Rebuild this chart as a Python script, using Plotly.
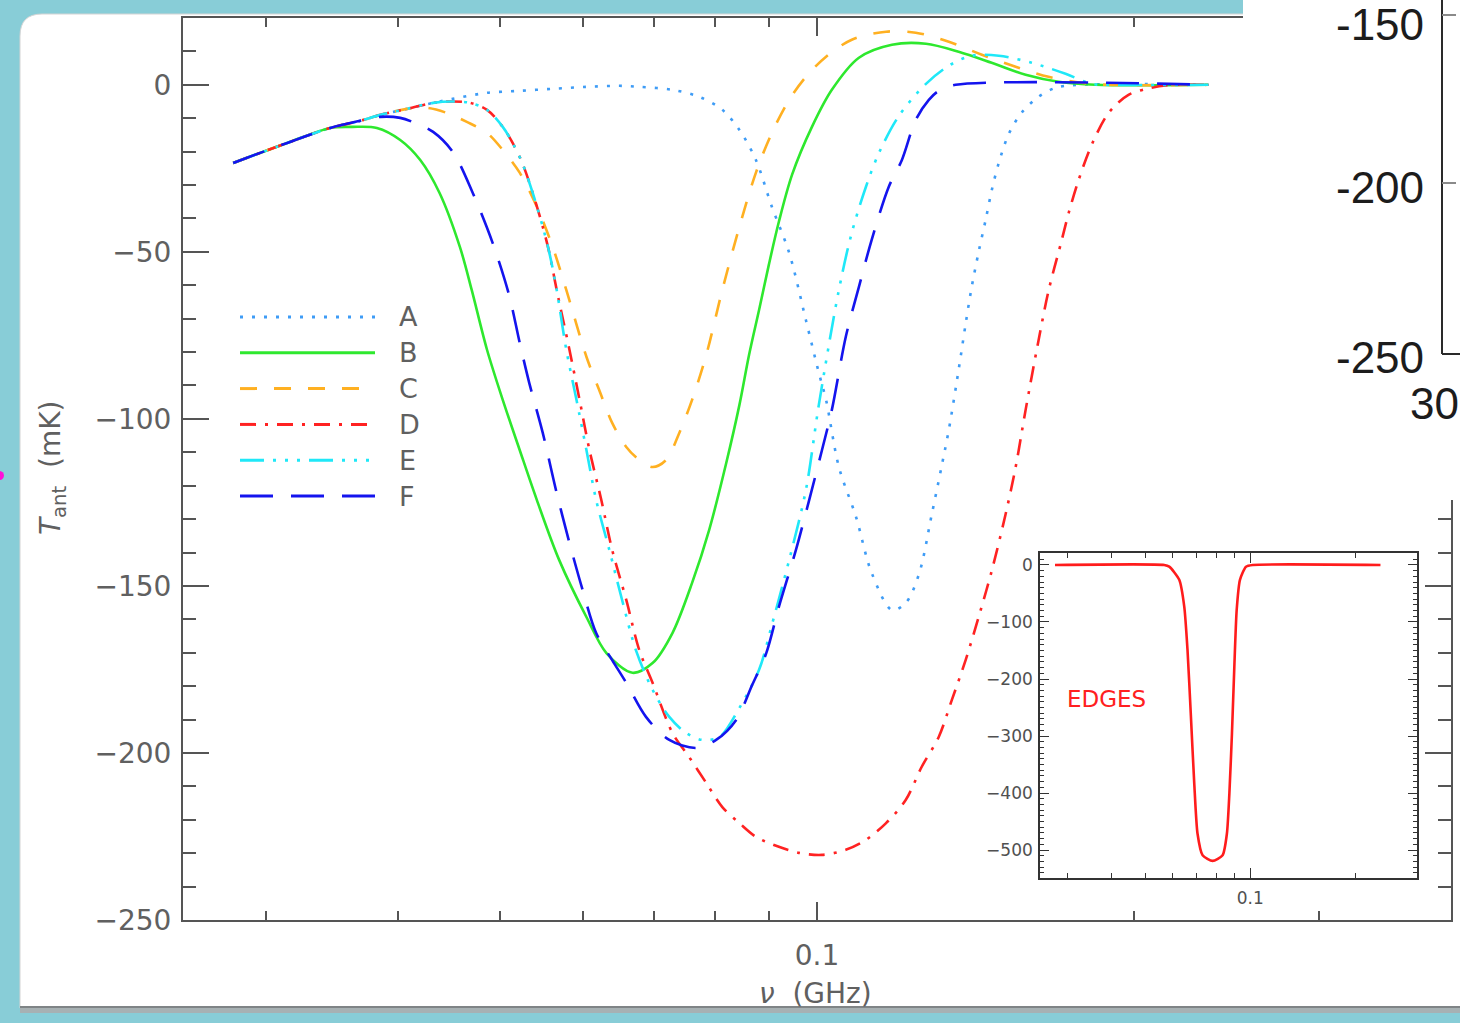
import math
import plotly.graph_objects as go

W, H = 1460, 1023

# ---------------- data (frequency in GHz, antenna temperature in mK) ----------------
series_names = ["A", "B", "C", "D", "E", "F"]

nu_A = [0.0279, 0.0314, 0.0345, 0.0368, 0.0385, 0.0408, 0.0432, 0.0451, 0.0486, 0.0522,
        0.0561, 0.0604, 0.0649, 0.0678, 0.0729, 0.0773, 0.0813, 0.0844, 0.0875, 0.0906,
        0.0941, 0.0976, 0.1004, 0.1020, 0.1049, 0.1089, 0.1127, 0.1178, 0.1214, 0.1250,
        0.1285, 0.1314, 0.1334, 0.1363, 0.1384, 0.1402, 0.1424, 0.1446, 0.1465, 0.1488,
        0.1521, 0.1564, 0.1623, 0.1685, 0.1771, 0.2353]
T_A = [-23.4, -17.4, -12.9, -10.8, -9.0, -7.2, -5.4, -4.2, -2.4, -1.8,
       -1.2, -0.6, -0.3, -0.6, -1.5, -3.6, -7.5, -13.5, -22.5, -36.5,
       -50.3, -70.4, -86.2, -94.3, -114.4, -129.3, -146.1, -157.2, -155.1, -146.4,
       -128.7, -113.8, -103.3, -85.3, -71.6, -60.8, -50.0, -40.4, -31.7, -23.4,
       -14.7, -8.4, -3.6, -0.9, 0.0, 0.0]

nu_B = [0.0279, 0.0314, 0.0345, 0.0362, 0.0382, 0.0402, 0.0420, 0.0438, 0.0458, 0.0470,
        0.0486, 0.0503, 0.0522, 0.0542, 0.0569, 0.0604, 0.0631, 0.0668, 0.0698, 0.0729,
        0.0761, 0.0790, 0.0820, 0.0844, 0.0862, 0.0881, 0.0900, 0.0920, 0.0947, 0.0989,
        0.1033, 0.1096, 0.1178, 0.1269, 0.1363, 0.1465, 0.1578, 0.1696, 0.1838, 0.2353]
T_B = [-23.4, -17.4, -12.9, -12.6, -12.9, -16.5, -22.5, -32.3, -48.5, -61.4,
       -79.3, -94.3, -109.3, -124.3, -142.2, -159.3, -170.1, -176.0, -173.1, -164.1,
       -149.1, -133.2, -113.2, -95.8, -80.8, -67.4, -53.9, -41.0, -26.9, -12.6,
       -1.5, 8.1, 12.0, 12.3, 9.9, 6.6, 3.0, 0.9, 0.0, 0.0]

nu_C = [0.0279, 0.0314, 0.0345, 0.0368, 0.0385, 0.0408, 0.0426, 0.0445, 0.0465, 0.0486,
        0.0503, 0.0522, 0.0542, 0.0561, 0.0578, 0.0604, 0.0621, 0.0639, 0.0659, 0.0678,
        0.0698, 0.0719, 0.0740, 0.0761, 0.0785, 0.0813, 0.0844, 0.0875, 0.0906, 0.0941,
        0.0976, 0.1020, 0.1079, 0.1163, 0.1241, 0.1334, 0.1434, 0.1544, 0.1659, 0.1783,
        0.1892, 0.2353]
T_C = [-23.4, -17.4, -12.9, -10.8, -9.0, -7.2, -6.9, -8.4, -11.1, -14.4,
       -19.5, -26.3, -36.5, -48.5, -61.4, -81.4, -91.3, -101.2, -108.4, -112.3,
       -114.4, -112.3, -104.2, -94.3, -80.8, -61.4, -42.5, -26.3, -14.4, -4.5,
       2.4, 8.4, 13.5, 15.9, 15.6, 12.9, 9.0, 5.4, 2.4, 0.6,
       0.0, 0.0]

nu_D = [0.0279, 0.0314, 0.0345, 0.0368, 0.0385, 0.0408, 0.0432, 0.0451, 0.0468, 0.0486,
        0.0503, 0.0514, 0.0525, 0.0537, 0.0549, 0.0557, 0.0566, 0.0582, 0.0595, 0.0608,
        0.0624, 0.0639, 0.0659, 0.0678, 0.0698, 0.0729, 0.0756, 0.0785, 0.0813, 0.0844,
        0.0875, 0.0920, 0.0961, 0.1011, 0.1065, 0.1113, 0.1163, 0.1214, 0.1257, 0.1305,
        0.1343, 0.1384, 0.1424, 0.1465, 0.1510, 0.1544, 0.1578, 0.1623, 0.1659, 0.1707,
        0.1734, 0.1771, 0.1823, 0.1892, 0.1976, 0.2077, 0.2180, 0.2353]
T_D = [-23.4, -17.4, -12.9, -10.8, -9.0, -7.2, -5.4, -5.0, -5.4, -7.5,
       -12.6, -17.4, -23.4, -32.3, -42.5, -50.3, -61.4, -79.3, -94.3, -109.3,
       -124.3, -139.2, -154.2, -169.2, -179.0, -194.0, -201.2, -209.0, -216.2, -221.0,
       -225.1, -228.1, -229.9, -230.5, -229.0, -226.0, -221.0, -214.1, -204.2, -195.2,
       -184.1, -172.2, -159.3, -145.6, -128.7, -114.4, -97.3, -76.6, -61.7, -46.7,
       -38.3, -28.7, -18.0, -8.4, -3.0, -0.9, 0.0, 0.0]

nu_E = [0.0279, 0.0314, 0.0345, 0.0368, 0.0385, 0.0408, 0.0432, 0.0451, 0.0468, 0.0486,
        0.0503, 0.0514, 0.0525, 0.0537, 0.0549, 0.0557, 0.0566, 0.0578, 0.0591, 0.0604,
        0.0617, 0.0635, 0.0653, 0.0673, 0.0698, 0.0724, 0.0751, 0.0778, 0.0808, 0.0844,
        0.0881, 0.0906, 0.0941, 0.0976, 0.1004, 0.1049, 0.1079, 0.1113, 0.1145, 0.1196,
        0.1269, 0.1334, 0.1402, 0.1488, 0.1599, 0.1722, 0.1823, 0.1892, 0.2353]
T_E = [-23.4, -17.4, -12.9, -10.8, -9.0, -7.2, -5.4, -5.0, -5.4, -7.5,
       -12.6, -17.4, -23.4, -32.3, -42.5, -50.3, -61.4, -79.3, -94.3, -109.3,
       -124.3, -139.2, -154.2, -169.2, -181.1, -189.2, -194.0, -196.1, -195.2, -186.5,
       -175.1, -161.7, -142.2, -121.3, -95.8, -61.4, -44.3, -30.5, -20.4, -9.3,
       0.3, 5.7, 8.7, 8.7, 6.6, 3.3, 0.3, 0.0, 0.0]

nu_F = [0.0279, 0.0314, 0.0345, 0.0368, 0.0385, 0.0402, 0.0413, 0.0432, 0.0451, 0.0471,
        0.0492, 0.0510, 0.0522, 0.0533, 0.0549, 0.0566, 0.0582, 0.0599, 0.0617, 0.0639,
        0.0659, 0.0688, 0.0724, 0.0768, 0.0802, 0.0838, 0.0868, 0.0895, 0.0920, 0.0955,
        0.0983, 0.1011, 0.1033, 0.1065, 0.1096, 0.1127, 0.1170, 0.1204, 0.1241, 0.1277,
        0.1305, 0.1354, 0.2353]
T_F = [-23.4, -17.4, -12.9, -10.8, -9.6, -9.9, -11.1, -14.1, -20.1, -32.3,
       -47.3, -62.9, -77.2, -89.2, -104.2, -122.2, -137.1, -151.2, -164.1, -172.2,
       -179.0, -189.2, -196.1, -198.5, -196.1, -190.1, -179.6, -170.1, -156.3, -139.2,
       -124.3, -109.3, -97.3, -75.4, -60.5, -46.4, -30.5, -22.5, -10.5, -4.5,
       -1.8, 0.0, 0.0]

# inset: EDGES profile
nu_EDGES = [0.0276, 0.0567, 0.0586, 0.0626, 0.0647, 0.0661, 0.0676, 0.0691, 0.0706, 0.0730,
            0.0780, 0.0833, 0.0857, 0.0871, 0.0886, 0.0900, 0.0914, 0.0934, 0.0972, 0.1016,
            0.2358]
T_EDGES = [0, 0, -3, -26, -73, -149, -266, -383, -471, -509,
           -519, -509, -471, -401, -295, -178, -79, -26, -3, 0,
           0]

main_y_ticks = [0, -50, -100, -150, -200, -250]
main_y_labels = ["0", "\u221250", "\u2212100", "\u2212150", "\u2212200", "\u2212250"]
main_x_ticks = [0.1]
main_x_labels = ["0.1"]
main_x_minor = [0.03, 0.04, 0.05, 0.06, 0.07, 0.08, 0.09, 0.2, 0.3]
inset_y_ticks = [0, -100, -200, -300, -400, -500]
inset_y_labels = ["0", "\u2212100", "\u2212200", "\u2212300", "\u2212400", "\u2212500"]
inset_x_minor = [0.03, 0.04, 0.05, 0.06, 0.07, 0.08, 0.09, 0.2]

# partial neighbouring chart (cut off at the right edge)
side_labels = ["-150", "-200", "-250"]
side_xlabel = "30"

# ---------------- styling ----------------
colors = {"A": "#3e9cf6", "B": "#2ee82e", "C": "#ffb021", "D": "#ff2222", "E": "#1fe8f8", "F": "#1414ee"}
dashes = {"A": "3px,9px", "B": "solid", "C": "17px,17px", "D": "16px,9px,3px,9px",
          "E": "24px,9px,3px,9px,3px,9px,3px,9px", "F": "33px,18px"}
data = {"A": (nu_A, T_A), "B": (nu_B, T_B), "C": (nu_C, T_C),
        "D": (nu_D, T_D), "E": (nu_E, T_E), "F": (nu_F, T_F)}

FONT = "DejaVu Sans"
TXT = "#606060"
AX = "#555555"


def px(x):
    return x / W


def py(y):
    return 1 - y / H


fig = go.Figure()

for name in series_names:
    nu, T = data[name]
    fig.add_trace(go.Scatter(
        x=nu, y=T, mode="lines", name=name, showlegend=False,
        line=dict(color=colors[name], width=2.6, dash=dashes[name], shape="spline", smoothing=0.9),
        xaxis="x", yaxis="y", hoverinfo="skip"))

# legend samples drawn on their own small axis
for i, name in enumerate(series_names):
    fig.add_trace(go.Scatter(
        x=[0, 1], y=[i, i], mode="lines", showlegend=False,
        line=dict(color=colors[name], width=3, dash=dashes[name]),
        xaxis="x3", yaxis="y3", hoverinfo="skip"))

# inset
fig.add_trace(go.Scatter(
    x=nu_EDGES, y=T_EDGES, mode="lines", showlegend=False,
    line=dict(color="#ff1c1c", width=2.6, shape="spline", smoothing=0.6),
    xaxis="x2", yaxis="y2", hoverinfo="skip"))

tickfont = dict(family=FONT, size=28, color=TXT)
insetfont = dict(family=FONT, size=17, color="#505050")

LEG_TOP, LEG_BOT = 299, 514

fig.update_layout(
    width=W, height=H, autosize=False,
    margin=dict(l=0, r=0, t=0, b=0, pad=0, autoexpand=False),
    paper_bgcolor="#88cdd7",
    plot_bgcolor="white",
    font=dict(family=FONT, color=TXT),
    xaxis=dict(
        type="log", range=[math.log10(0.025), math.log10(0.4)],
        domain=[px(183), px(1451)], anchor="y", automargin=False,
        showline=True, linecolor=AX, linewidth=2, mirror="ticks",
        ticks="inside", ticklen=18, tickwidth=1.6, tickcolor=AX,
        tickmode="array", tickvals=main_x_ticks, ticktext=main_x_labels,
        tickfont=tickfont, ticklabelstandoff=9,
        showgrid=False, zeroline=False,
        minor=dict(tickmode="array", tickvals=main_x_minor, ticks="inside",
                   ticklen=9, tickwidth=1.6, tickcolor=AX, showgrid=False),
    ),
    yaxis=dict(
        range=[-250, 20], domain=[py(920), py(18)], anchor="x", automargin=False,
        showline=True, linecolor=AX, linewidth=2, mirror="ticks",
        ticks="inside", ticklen=26, tickwidth=1.6, tickcolor=AX,
        tickmode="array", tickvals=main_y_ticks, ticktext=main_y_labels,
        tickfont=tickfont, ticklabelstandoff=4,
        showgrid=False, zeroline=False,
        minor=dict(dtick=10, tick0=0, ticks="inside", ticklen=13, tickwidth=1.6,
                   tickcolor=AX, showgrid=False),
    ),
    xaxis2=dict(
        type="log", range=[math.log10(0.025), math.log10(0.3)],
        domain=[px(1040), px(1417)], anchor="y2", automargin=False,
        showline=True, linecolor="#333333", linewidth=1.6, mirror="ticks",
        ticks="inside", ticklen=10, tickwidth=1.2, tickcolor="#333333",
        tickmode="array", tickvals=[0.1], ticktext=["0.1"],
        tickfont=insetfont, ticklabelstandoff=4,
        showgrid=False, zeroline=False,
        minor=dict(tickmode="array", tickvals=inset_x_minor, ticks="inside",
                   ticklen=5, tickwidth=1.2, tickcolor="#333333", showgrid=False),
    ),
    yaxis2=dict(
        range=[-549, 21], domain=[py(878), py(553)], anchor="x2", automargin=False,
        showline=True, linecolor="#333333", linewidth=1.6, mirror="ticks",
        ticks="inside", ticklen=9, tickwidth=1.2, tickcolor="#333333",
        tickmode="array", tickvals=inset_y_ticks, ticktext=inset_y_labels,
        tickfont=insetfont, ticklabelstandoff=2,
        showgrid=False, zeroline=False,
        minor=dict(dtick=10, tick0=0, ticks="inside", ticklen=4, tickwidth=1,
                   tickcolor="#333333", showgrid=False),
    ),
    xaxis3=dict(range=[0, 1], domain=[px(240), px(375)], anchor="y3", visible=False,
                fixedrange=True, automargin=False),
    yaxis3=dict(range=[5.5, -0.5], domain=[py(LEG_BOT), py(LEG_TOP)], anchor="x3", visible=False,
                fixedrange=True, automargin=False),
)

annotations = []
row_h = (LEG_BOT - LEG_TOP) / 6.0
for i, name in enumerate(series_names):
    yy = LEG_TOP + row_h * (i + 0.5)
    annotations.append(dict(xref="paper", yref="paper", x=px(397), y=py(yy), text=name, showarrow=False,
                            xanchor="left", yanchor="middle",
                            font=dict(family=FONT, size=27, color=TXT)))

annotations += [
    dict(xref="paper", yref="paper", x=px(815), y=py(993), text="<i>\u03bd</i>  (GHz)",
         showarrow=False, xanchor="center", yanchor="middle",
         font=dict(family=FONT, size=28, color=TXT)),
    dict(xref="paper", yref="paper", x=px(52), y=py(468), text="<i>T</i><sub>ant</sub>  (mK)",
         showarrow=False, textangle=-90, xanchor="center", yanchor="middle",
         font=dict(family=FONT, size=28, color=TXT)),
    dict(xref="paper", yref="paper", x=px(1106), y=py(699), text="EDGES",
         showarrow=False, xanchor="center", yanchor="middle",
         font=dict(family=FONT, size=23, color="#ff2020")),
]

side_y = [25, 187, 357]
for lab, yy in zip(side_labels, side_y):
    annotations.append(dict(xref="paper", yref="paper", x=px(1426), y=py(yy), text=lab,
                            showarrow=False, xanchor="right", yanchor="middle",
                            font=dict(family="Liberation Sans", size=44, color="#1c1c1c")))
annotations.append(dict(xref="paper", yref="paper", x=px(1408), y=py(403), text=side_xlabel,
                        showarrow=False, xanchor="left", yanchor="middle",
                        font=dict(family="Liberation Sans", size=44, color="#1c1c1c")))

# card / slide decorations
r = 22
card_path = (f"M {px(20)},{py(1008)} L {px(20)},{py(14 + r)} "
             f"Q {px(20)},{py(14)} {px(20 + r)},{py(14)} "
             f"L {px(1480)},{py(14)} L {px(1480)},{py(1008)} Z")
shapes = [
    dict(type="path", xref="paper", yref="paper", path=card_path,
         fillcolor="white", line=dict(color="#d4d4d4", width=1), layer="below"),
    dict(type="rect", xref="paper", yref="paper", x0=px(20), x1=px(1480), y0=py(1013), y1=py(1006),
         fillcolor="#a7b1b3", line=dict(width=0), layer="below"),
    dict(type="rect", xref="paper", yref="paper", x0=px(20), x1=px(1480), y0=py(1008), y1=py(1006),
         fillcolor="#7f8486", line=dict(width=0), layer="below"),
    # overlapping neighbouring figure at the top right
    dict(type="rect", xref="paper", yref="paper", x0=px(1243), x1=px(1480), y0=py(500), y1=py(-10),
         fillcolor="white", line=dict(width=0), layer="above"),
    dict(type="line", xref="paper", yref="paper", x0=px(1442), x1=px(1442), y0=py(354), y1=py(-5),
         line=dict(color="#2a2a2a", width=2), layer="above"),
    dict(type="line", xref="paper", yref="paper", x0=px(1442), x1=px(1470), y0=py(354), y1=py(354),
         line=dict(color="#2a2a2a", width=2), layer="above"),
    dict(type="line", xref="paper", yref="paper", x0=px(1442), x1=px(1456), y0=py(15), y1=py(15),
         line=dict(color="#8a8a8a", width=2), layer="above"),
    dict(type="line", xref="paper", yref="paper", x0=px(1442), x1=px(1456), y0=py(183), y1=py(183),
         line=dict(color="#8a8a8a", width=2), layer="above"),
    dict(type="circle", xref="paper", yref="paper", x0=px(-5), x1=px(4), y0=py(480), y1=py(471),
         fillcolor="#ff10d8", line=dict(width=0), layer="above"),
]

fig.update_layout(annotations=annotations, shapes=shapes)

fig.write_html("out.html",
               config={"displayModeBar": False, "responsive": False},
               post_script="document.body.style.margin='0px';document.body.style.overflow='hidden';")
